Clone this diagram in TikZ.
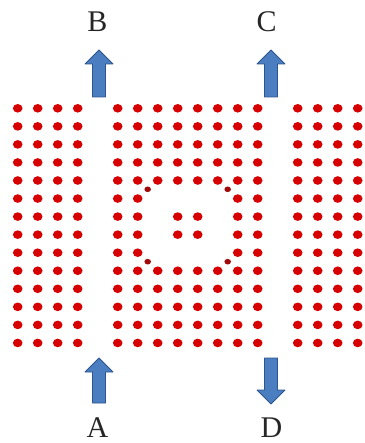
\documentclass[tikz,border=0pt]{standalone}
\usepackage{fontspec}
\setmainfont{Liberation Serif}
\definecolor{dotred}{RGB}{215,0,0}
\definecolor{smallred}{RGB}{160,10,10}
\definecolor{arrfill}{RGB}{74,126,192}
\definecolor{arrdraw}{RGB}{45,85,140}
\begin{document}
\begin{tikzpicture}[x=1pt,y=-1pt,
  rod/.style={fill=dotred},
  smallrod/.style={fill=smallred},
  blockarrow/.style={fill=arrfill,draw=arrdraw,line width=0.8pt,line join=round},
  lbl/.style={font=\fontsize{30}{30}\selectfont,text=black!85,inner sep=0pt}]
\useasboundingbox (0,0) rectangle (364,443);
% photonic crystal rods
\foreach \k in {0,...,17}{
  \foreach \r in {0,...,13}{
    \pgfmathtruncatemacro{\skip}{
      (\k==4) || (\k==13) ||
      ((\r==5 || \r==8) && \k>=7 && \k<=10) ||
      ((\r==6 || \r==7) && (\k==7 || \k==10)) ? 1 : 0}
    \ifnum\skip=0
      \fill[rod] ({17.7+20*\k},{108.3+18.05*\r}) ellipse [x radius=4.8, y radius=4.3];
    \fi
  }
}
% small corner rods
\foreach \x/\y in {147.7/189.3, 227.7/189.3, 147.7/261.7, 227.7/261.7}
  \fill[smallrod] (\x,\y) ellipse [x radius=3.3, y radius=2.8];
% arrows
\foreach \cx in {99, 271}{
  \draw[blockarrow] (\cx,50) -- ({\cx+14},64) -- ({\cx+6.5},64) -- ({\cx+6.5},97)
     -- ({\cx-6.5},97) -- ({\cx-6.5},64) -- ({\cx-14},64) -- cycle;
}
\draw[blockarrow] (99,358) -- (113,372) -- (105.5,372) -- (105.5,403)
   -- (92.5,403) -- (92.5,372) -- (85,372) -- cycle;
\draw[blockarrow] (271,404) -- (285,390) -- (277.5,390) -- (277.5,358)
   -- (264.5,358) -- (264.5,390) -- (257,390) -- cycle;
% labels
\node[lbl] (B) at (97.5,22) {B};
\node[lbl] (C) at (266.5,22) {C};
\node[lbl] (A) at (97.5,427.5) {A};
\node[lbl] (D) at (271.5,428) {D};
\end{tikzpicture}
\end{document}
